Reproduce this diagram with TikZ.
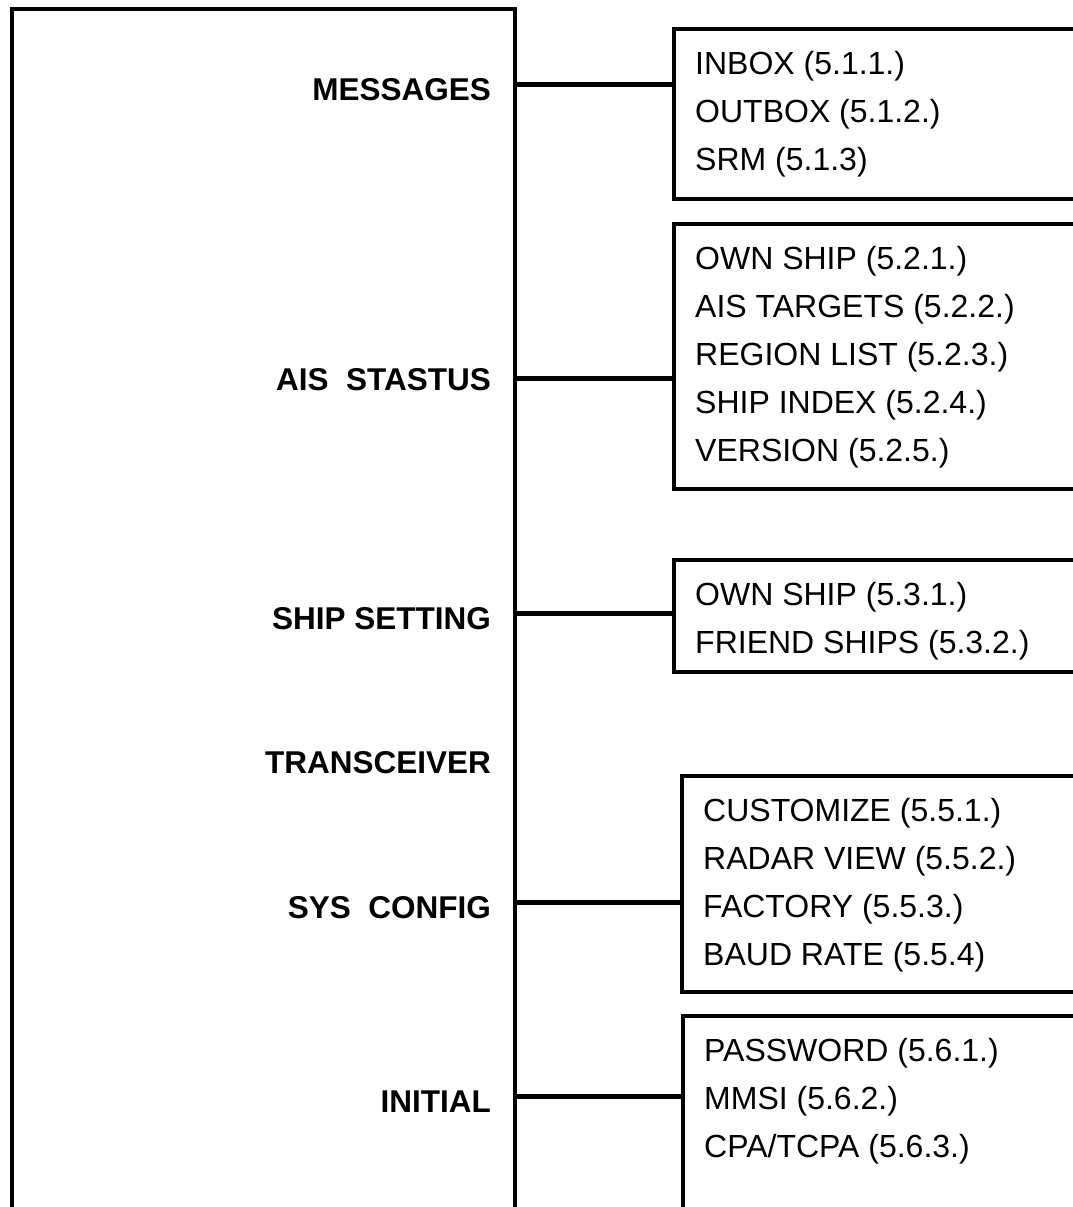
\documentclass[tikz,border=0pt]{standalone}
\usepackage{fontspec}
\setmainfont{Liberation Sans}

\tikzset{
  frame/.style={draw, line width=3.8pt, inner sep=0pt},
  menubox/.style={frame, anchor=north west, minimum width=450pt},
  topic/.style={anchor=east, inner sep=0pt, font=\bfseries\fontsize{31.5}{38}\selectfont},
  item/.style={anchor=base west, inner sep=0pt, font=\fontsize{32}{38}\selectfont},
  link/.style={line width=5pt}
}

\begin{document}
\begin{tikzpicture}[x=1pt,y=-1pt]
\useasboundingbox (0,0) rectangle (1073,1207);
\clip (0,0) rectangle (1073,1207);

% main menu, open at the bottom
\node[frame, anchor=north west, minimum width=503pt, minimum height=1300pt] (menu) at (10,7) {};

\node[topic] (msg) at (491,90) {MESSAGES};
\node[topic] (ais) at (491,380) {AIS\ \ STASTUS};
\node[topic] (ship) at (491,619) {SHIP SETTING};
\node[topic] (trx) at (491,763) {TRANSCEIVER};
\node[topic] (sys) at (491,908) {SYS\ \ CONFIG};
\node[topic] (init) at (491,1102) {INITIAL};

% sub menus (right side runs off the page)
\node[menubox, minimum height=170pt] (msgbox) at (672,27) {};
\node[menubox, minimum height=265pt] (aisbox) at (672,222) {};
\node[menubox, minimum height=112pt] (shipbox) at (672,558) {};
\node[menubox, minimum height=216pt] (sysbox) at (680,774) {};
\node[menubox, minimum height=300pt] (initbox) at (681,1014) {};

\foreach \txt [count=\i] in {INBOX (5.1.1.),OUTBOX (5.1.2.),SRM (5.1.3)}
  \node[item] (msg\i) at ([xshift=23pt,yshift={-47.5pt-48pt*(\i-1)}]msgbox.north west) {\txt};
\foreach \txt [count=\i] in {OWN SHIP (5.2.1.),AIS TARGETS (5.2.2.),REGION LIST (5.2.3.),SHIP INDEX (5.2.4.),VERSION (5.2.5.)}
  \node[item] (ais\i) at ([xshift=23pt,yshift={-47.5pt-48pt*(\i-1)}]aisbox.north west) {\txt};
\foreach \txt [count=\i] in {OWN SHIP (5.3.1.),FRIEND SHIPS (5.3.2.)}
  \node[item] (ship\i) at ([xshift=23pt,yshift={-47.5pt-48pt*(\i-1)}]shipbox.north west) {\txt};
\foreach \txt [count=\i] in {CUSTOMIZE (5.5.1.),RADAR VIEW (5.5.2.),FACTORY (5.5.3.),BAUD RATE (5.5.4)}
  \node[item] (sys\i) at ([xshift=23pt,yshift={-47.5pt-48pt*(\i-1)}]sysbox.north west) {\txt};
\foreach \txt [count=\i] in {PASSWORD (5.6.1.),MMSI (5.6.2.),CPA/TCPA (5.6.3.)}
  \node[item] (init\i) at ([xshift=23pt,yshift={-47.5pt-48pt*(\i-1)}]initbox.north west) {\txt};

% links
\draw[link] ([yshift=6pt]msg.east -| menu.east) -- ([yshift=6pt]msg.east -| msgbox.west);
\draw[link] ([yshift=2pt]ais.east -| menu.east) -- ([yshift=2pt]ais.east -| aisbox.west);
\draw[link] ([yshift=6pt]ship.east -| menu.east) -- ([yshift=6pt]ship.east -| shipbox.west);
\draw[link] ([yshift=6pt]sys.east -| menu.east) -- ([yshift=6pt]sys.east -| sysbox.west);
\draw[link] ([yshift=6pt]init.east -| menu.east) -- ([yshift=6pt]init.east -| initbox.west);
\end{tikzpicture}
\end{document}
